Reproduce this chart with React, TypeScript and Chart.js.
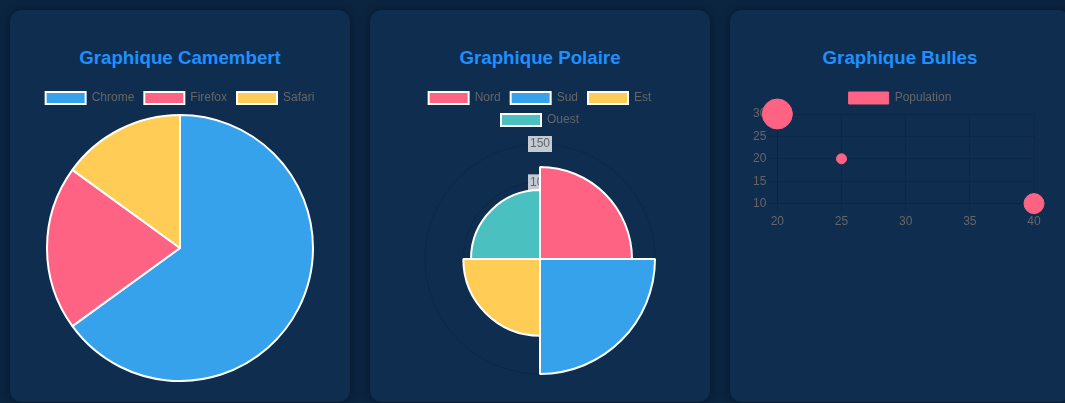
import React, { useEffect, useRef } from "react";
import { Chart, registerables } from "chart.js";

Chart.register(...registerables);

// ---- Data ----
const pieLabels = ["Chrome", "Firefox", "Safari"];
const pieValues = [65, 20, 15];
const pieColors = ["#36a2eb", "#ff6384", "#ffcd56"];

const polarLabels = ["Nord", "Sud", "Est", "Ouest"];
const polarValues = [120, 150, 100, 90];
const polarColors = ["#ff6384", "#36a2eb", "#ffcd56", "#4bc0c0"];

const bubbleLabel = "Population";
const bubbleX = [20, 25, 40];
const bubbleY = [30, 20, 10];
const bubbleR = [15, 5, 10];
const bubbleColor = "#ff6384";

const titles = ["Graphique Camembert", "Graphique Polaire", "Graphique Bulles"];

const FONT = "'Liberation Sans', Arial, Helvetica, sans-serif";

function useChart(ref: React.RefObject<HTMLCanvasElement | null>, make: (ctx: HTMLCanvasElement) => Chart) {
  useEffect(() => {
    if (!ref.current) return;
    const c = make(ref.current);
    return () => c.destroy();
  }, []);
}

function Card({ index, height, children }: { index: number; height: number; children: React.ReactNode }) {
  return (
    <div
      style={{
        position: "absolute",
        left: 10 + index * 360,
        top: 10,
        width: 340,
        height: 392,
        background: "#0f2d4f",
        borderRadius: 12,
        boxShadow: "0 0 10px rgba(0,0,0,0.35)",
      }}
    >
      <div
        style={{
          position: "absolute",
          left: 0,
          top: 37,
          width: 340,
          height: 22,
          lineHeight: "22px",
          textAlign: "center",
          fontFamily: FONT,
          fontWeight: "bold",
          fontSize: 18.72,
          color: "#1e90ff",
        }}
      >
        {titles[index]}
      </div>
      <div style={{ position: "absolute", left: 20, top: 72, width: 300, height }}>{children}</div>
    </div>
  );
}

export default function App() {
  const pieRef = useRef<HTMLCanvasElement>(null);
  const polarRef = useRef<HTMLCanvasElement>(null);
  const bubbleRef = useRef<HTMLCanvasElement>(null);

  useChart(pieRef, (el) =>
    new Chart(el, {
      type: "pie",
      data: {
        labels: pieLabels,
        datasets: [{ data: pieValues, backgroundColor: pieColors }],
      },
      options: {
        animation: false,
        responsive: true,
        maintainAspectRatio: false,
        plugins: { legend: { labels: { font: { family: FONT } } } },
      },
    })
  );

  useChart(polarRef, (el) =>
    new Chart(el, {
      type: "polarArea",
      data: {
        labels: polarLabels,
        datasets: [{ data: polarValues, backgroundColor: polarColors }],
      },
      options: {
        animation: false,
        responsive: true,
        maintainAspectRatio: false,
        plugins: { legend: { labels: { font: { family: FONT } } } },
        scales: { r: { ticks: { font: { family: FONT } } } },
      },
    })
  );

  useChart(bubbleRef, (el) =>
    new Chart(el, {
      type: "bubble",
      data: {
        datasets: [
          {
            label: bubbleLabel,
            data: bubbleX.map((x, i) => ({ x, y: bubbleY[i], r: bubbleR[i] })),
            backgroundColor: bubbleColor,
            borderColor: bubbleColor,
          },
        ],
      },
      options: {
        animation: false,
        responsive: true,
        maintainAspectRatio: false,
        plugins: { legend: { labels: { font: { family: FONT } } } },
        scales: {
          x: { ticks: { font: { family: FONT } } },
          y: { ticks: { font: { family: FONT } } },
        },
      },
    })
  );

  return (
    <div
      style={{
        position: "fixed",
        left: 0,
        top: 0,
        width: "100vw",
        height: "100vh",
        background: "#0b2440",
        overflow: "hidden",
      }}
    >
      <Card index={0} height={300}>
        <canvas ref={pieRef} />
      </Card>
      <Card index={1} height={300}>
        <canvas ref={polarRef} />
      </Card>
      <Card index={2} height={150}>
        <canvas ref={bubbleRef} />
      </Card>
    </div>
  );
}
